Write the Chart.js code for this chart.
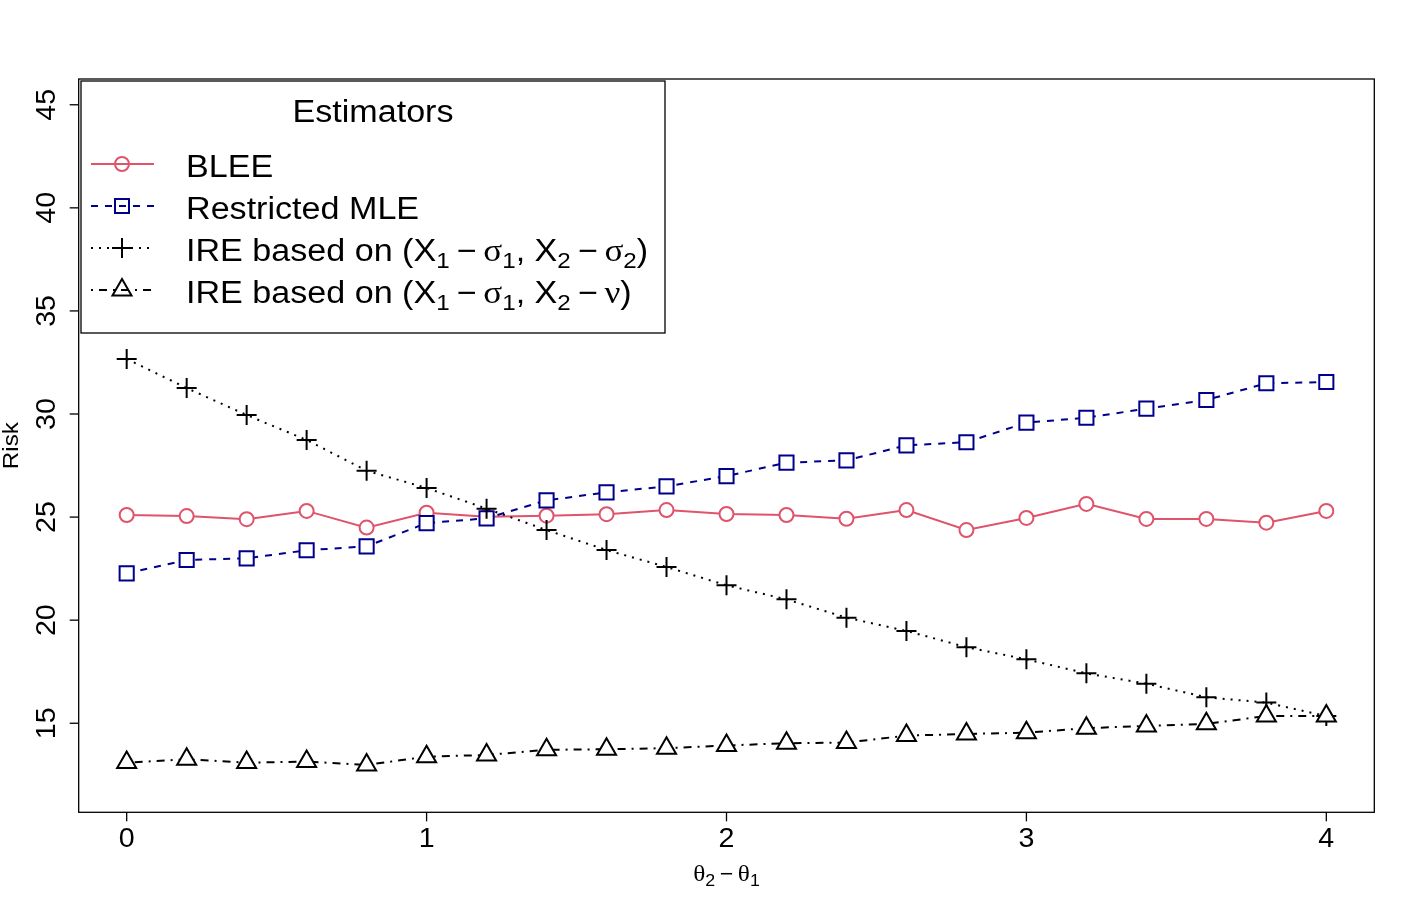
<!DOCTYPE html>
<html>
<head>
<meta charset="utf-8">
<script src="https://cdn.jsdelivr.net/npm/chart.js@4.4.0/dist/chart.umd.min.js"></script>
<style>
  html, body { margin: 0; padding: 0; background: #fff; }
  canvas { display: block; }
</style>
</head>
<body>
<canvas id="c" width="1415" height="910"></canvas>
<script>
// theta2 - theta1 grid
const xs = [0, 0.2, 0.4, 0.6, 0.8, 1, 1.2, 1.4, 1.6, 1.8, 2, 2.2, 2.4, 2.6, 2.8, 3, 3.2, 3.4, 3.6, 3.8, 4];

// risk values
const blee     = [25.10, 25.05, 24.90, 25.30, 24.49, 25.21, 25.02, 25.07, 25.14, 25.34, 25.15, 25.10, 24.92, 25.34, 24.37, 24.96, 25.64, 24.91, 24.91, 24.73, 25.30];
const rmle     = [22.27, 22.92, 23.00, 23.39, 23.58, 24.71, 24.94, 25.81, 26.20, 26.49, 26.99, 27.64, 27.75, 28.48, 28.63, 29.58, 29.82, 30.26, 30.68, 31.49, 31.55];
const ireSigma = [32.67, 31.26, 29.95, 28.74, 27.25, 26.41, 25.41, 24.37, 23.40, 22.58, 21.69, 21.01, 20.12, 19.48, 18.69, 18.10, 17.42, 16.92, 16.26, 16.00, 15.35];
const ireNu    = [13.09, 13.25, 13.09, 13.14, 12.98, 13.38, 13.46, 13.71, 13.74, 13.79, 13.92, 14.03, 14.06, 14.40, 14.48, 14.54, 14.76, 14.87, 14.97, 15.35, 15.35];

const xTicks = [0, 1, 2, 3, 4];
const yTicks = [15, 20, 25, 30, 35, 40, 45];

const RED = '#DF536B', BLUE = '#00008B', BLACK = '#000';
const SANS = '"Liberation Sans", Arial, sans-serif';
const SERIF = '"Liberation Serif", "Times New Roman", serif';

function pts(vals){ return xs.map((x, i) => ({ x: x, y: vals[i] })); }

function series(vals, color, style, radius, dash, order){
  return {
    data: pts(vals),
    showLine: true,
    borderColor: color,
    borderWidth: 2,
    borderDash: dash,
    pointStyle: style,
    pointRadius: radius,
    pointBorderWidth: 2,
    pointBorderColor: color,
    pointBackgroundColor: '#fff',
    fill: false,
    tension: 0,
    order: order,
    clip: false
  };
}

// text with a small horizontal stretch (the reference glyphs are a bit wide)
function stretchText(ctx, s, x, y, font, align, sx, rot){
  ctx.save();
  ctx.translate(x, y);
  if (rot) ctx.rotate(rot);
  ctx.scale(sx, 1);
  ctx.font = font;
  ctx.textAlign = align;
  ctx.textBaseline = 'alphabetic';
  ctx.fillText(s, 0, 0);
  ctx.restore();
}

// runs of text: [{t, f, dy}]
function runsWidth(ctx, runs, sx){
  let w = 0;
  runs.forEach(r => { ctx.font = r.f; w += ctx.measureText(r.t).width * sx; });
  return w;
}
function drawRuns(ctx, runs, x, y, sx){
  runs.forEach(r => {
    ctx.font = r.f;
    stretchText(ctx, r.t, x, y + (r.dy || 0), r.f, 'left', sx);
    x += ctx.measureText(r.t).width * sx;
  });
  return x;
}

function marker(ctx, style, x, y, color){
  ctx.save();
  ctx.setLineDash([]);
  ctx.strokeStyle = color;
  ctx.lineWidth = 2;
  ctx.beginPath();
  if (style === 'circle') {
    ctx.arc(x, y, 7, 0, Math.PI * 2);
  } else if (style === 'rect') {
    ctx.rect(x - 7, y - 7, 14, 14);
  } else if (style === 'cross') {
    ctx.moveTo(x - 10, y); ctx.lineTo(x + 10, y);
    ctx.moveTo(x, y - 10); ctx.lineTo(x, y + 10);
  } else if (style === 'triangle') {
    const r = 11;
    ctx.moveTo(x, y - r);
    ctx.lineTo(x + r * Math.sin(2 * Math.PI / 3), y - r * Math.cos(2 * Math.PI / 3));
    ctx.lineTo(x + r * Math.sin(4 * Math.PI / 3), y - r * Math.cos(4 * Math.PI / 3));
    ctx.closePath();
  }
  ctx.stroke();
  ctx.restore();
}

const LF = '31px ' + SANS, LSUB = '22px ' + SANS, LG = '32px ' + SERIF;
const MINUS = '\u2009\u2212\u2009';
const legendRows = [
  { color: RED,   dash: [],            style: 'circle',   runs: [{ t: 'BLEE', f: LF }] },
  { color: BLUE,  dash: [7, 7],        style: 'rect',     runs: [{ t: 'Restricted MLE', f: LF }] },
  { color: BLACK, dash: [2, 6],        style: 'cross',    runs: [
      { t: 'IRE based on (X', f: LF }, { t: '1', f: LSUB, dy: 7 }, { t: MINUS, f: LF },
      { t: '\u03C3', f: LG }, { t: '1', f: LSUB, dy: 7 }, { t: ', X', f: LF }, { t: '2', f: LSUB, dy: 7 },
      { t: MINUS, f: LF }, { t: '\u03C3', f: LG }, { t: '2', f: LSUB, dy: 7 }, { t: ')', f: LF }] },
  { color: BLACK, dash: [2, 6, 8, 6],  style: 'triangle', runs: [
      { t: 'IRE based on (X', f: LF }, { t: '1', f: LSUB, dy: 7 }, { t: MINUS, f: LF },
      { t: '\u03C3', f: LG }, { t: '1', f: LSUB, dy: 7 }, { t: ', X', f: LF }, { t: '2', f: LSUB, dy: 7 },
      { t: MINUS, f: LF }, { t: '\u03BD', f: LG }, { t: ')', f: LF }] }
];

const frame = {
  id: 'frame',
  afterDraw(chart){
    const { ctx, chartArea: a, scales: { x, y } } = chart;
    ctx.save();
    ctx.fillStyle = '#000';
    ctx.strokeStyle = '#000';
    ctx.lineWidth = 1.3;
    ctx.setLineDash([]);
    ctx.strokeRect(a.left, a.top, a.right - a.left, a.bottom - a.top);

    // x axis ticks + labels
    xTicks.forEach(v => {
      const px = x.getPixelForValue(v);
      ctx.beginPath(); ctx.moveTo(px, a.bottom); ctx.lineTo(px, a.bottom + 9); ctx.stroke();
      stretchText(ctx, String(v), px, 847, '27px ' + SANS, 'center', 1.06);
    });
    // y axis ticks + labels (rotated like R's las = 0)
    yTicks.forEach(v => {
      const py = y.getPixelForValue(v);
      ctx.beginPath(); ctx.moveTo(a.left - 9, py); ctx.lineTo(a.left, py); ctx.stroke();
      stretchText(ctx, String(v), 55, py, '27px ' + SANS, 'center', 1.06, -Math.PI / 2);
    });

    // axis titles
    stretchText(ctx, 'Risk', 18, (a.top + a.bottom) / 2, '22px ' + SANS, 'center', 1.1, -Math.PI / 2);
    const tf = '24px ' + SERIF, ts = '17px ' + SANS;
    const xt = [{ t: '\u03B8', f: tf }, { t: '2', f: ts, dy: 5 }, { t: MINUS, f: '22px ' + SANS },
                { t: '\u03B8', f: tf }, { t: '1', f: ts, dy: 5 }];
    const xw = runsWidth(ctx, xt, 1.05);
    drawRuns(ctx, xt, (a.left + a.right) / 2 - xw / 2, 881, 1.05);

    // legend
    const L = 81, T = 81, R = 665, B = 333;
    ctx.fillStyle = '#fff';
    ctx.fillRect(L, T, R - L, B - T);
    ctx.strokeStyle = '#000';
    ctx.lineWidth = 1.3;
    ctx.strokeRect(L, T, R - L, B - T);
    ctx.fillStyle = '#000';
    stretchText(ctx, 'Estimators', (L + R) / 2, 122, LF, 'center', 1.1);
    legendRows.forEach((row, i) => {
      const cy = 164 + i * 42;
      ctx.save();
      ctx.strokeStyle = row.color;
      ctx.lineWidth = 2;
      ctx.setLineDash(row.dash);
      ctx.beginPath(); ctx.moveTo(91, cy); ctx.lineTo(154, cy); ctx.stroke();
      ctx.restore();
      marker(ctx, row.style, 122, cy, row.color);
      ctx.fillStyle = '#000';
      drawRuns(ctx, row.runs, 186, cy + 13, 1.1);
    });
    ctx.restore();
  }
};

new Chart(document.getElementById('c'), {
  type: 'scatter',
  data: {
    datasets: [
      series(blee, RED, 'circle', 7, [], 4),
      series(rmle, BLUE, 'rect', 10, [7, 7], 3),
      series(ireSigma, BLACK, 'cross', 10, [2, 6], 2),
      series(ireNu, BLACK, 'triangle', 11, [2, 6, 8, 6], 1)
    ]
  },
  options: {
    responsive: false,
    animation: false,
    devicePixelRatio: 1,
    layout: { padding: { left: 0, right: 40.7, top: 79, bottom: 0 } },
    plugins: { legend: { display: false }, tooltip: { enabled: false } },
    scales: {
      x: {
        type: 'linear', min: -0.16, max: 4.16,
        grid: { display: false }, border: { display: false },
        ticks: { display: false },
        afterFit(s){ s.height = 97.7; }
      },
      y: {
        type: 'linear', min: 10.68, max: 46.25,
        grid: { display: false }, border: { display: false },
        ticks: { display: false },
        afterFit(s){ s.width = 78.7; }
      }
    }
  },
  plugins: [frame]
});
</script>
</body>
</html>
